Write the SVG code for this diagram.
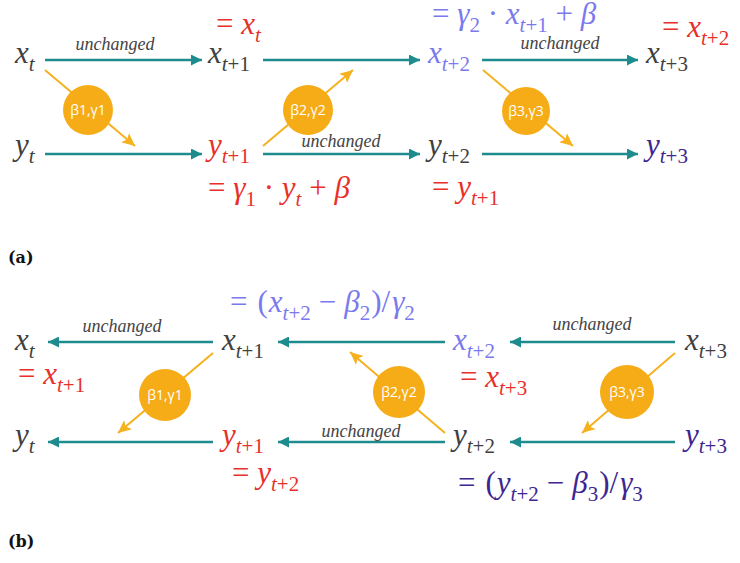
<svg xmlns="http://www.w3.org/2000/svg" width="740" height="563" viewBox="0 0 740 563">
<defs>
<style>
.m{font-family:"Liberation Serif",serif;font-size:31px;font-style:italic}
.u{font-style:normal}
.s{font-size:21px}
.g{fill:#404040}
.r{fill:#e8302a}
.b{fill:#7b79ee}
.p{fill:#3d2690}
.lab{font-family:"Liberation Serif",serif;font-style:italic;font-size:18px;fill:#444444;text-anchor:middle}
.cl{font-family:"Open Sans",sans-serif;font-size:14px;fill:#ffffff;text-anchor:middle}
.ta{stroke:#1e8c8e;stroke-width:2.5;fill:none;marker-end:url(#ah)}
.oa{stroke:#f5b11e;stroke-width:2;fill:none;marker-end:url(#oh)}
.c{fill:#f6ac17}
.cap{font-family:"DejaVu Serif",serif;font-weight:bold;font-size:16px;fill:#111111}
</style>
<marker id="ah" markerUnits="userSpaceOnUse" markerWidth="11" markerHeight="11" refX="11" refY="5.5" orient="auto"><path d="M0,0 L11,5.5 L0,11 Z" fill="#1e8c8e"/></marker>
<marker id="oh" markerUnits="userSpaceOnUse" markerWidth="13" markerHeight="12" refX="13" refY="6" orient="auto"><path d="M0,0 L13,6 L0,12 L3,6 Z" fill="#f5b11e"/></marker>
</defs>
<rect width="740" height="563" fill="#ffffff"/>

<g id="connectors">
<path class="ta" d="M45,60 H202"/>
<path class="ta" d="M263,60 H420"/>
<path class="ta" d="M482,60 H638"/>
<path class="ta" d="M45,154 H202"/>
<path class="ta" d="M263,154 H420"/>
<path class="ta" d="M482,154 H638"/>
<path class="oa" d="M45,70 L135,146"/>
<path class="oa" d="M263,146 L353,70"/>
<path class="oa" d="M483,70 L573,146"/>
<text class="lab" x="115" y="50">unchanged</text>
<text class="lab" x="560" y="49">unchanged</text>
<text class="lab" x="341" y="147">unchanged</text>

<path class="ta" d="M213,342 H48"/>
<path class="ta" d="M445,342 H278"/>
<path class="ta" d="M675,342 H510"/>
<path class="ta" d="M213,442 H48"/>
<path class="ta" d="M445,442 H278"/>
<path class="ta" d="M675,442 H510"/>
<path class="oa" d="M213,353 L118,433"/>
<path class="oa" d="M445,433 L350,352"/>
<path class="oa" d="M675,353 L582,433"/>
<text class="lab" x="122" y="332">unchanged</text>
<text class="lab" x="592" y="330">unchanged</text>
<text class="lab" x="361" y="437">unchanged</text>
</g>

<g id="a-x-t"><text class="m g" x="15" y="63">x<tspan class="s" dy="8">t</tspan></text></g>
<g id="a-x-t1"><text class="m g" x="208" y="63">x<tspan class="s" dy="8">t<tspan class="u">+1</tspan></tspan></text>
<text class="m r" x="216" y="34"><tspan class="u">= </tspan>x<tspan class="s" dy="8">t</tspan></text></g>
<g id="a-x-t2"><text class="m b" x="428" y="63">x<tspan class="s" dy="8">t<tspan class="u">+2</tspan></tspan></text>
<text class="m b" x="432" y="24"><tspan class="u">= </tspan>γ<tspan class="s u" dy="8">2</tspan><tspan class="u" dy="-8"> · </tspan>x<tspan class="s" dy="8">t<tspan class="u">+1</tspan></tspan><tspan class="u" dy="-8"> + </tspan>β</text></g>
<g id="a-x-t3"><text class="m g" x="646" y="63">x<tspan class="s" dy="8">t<tspan class="u">+3</tspan></tspan></text>
<text class="m r" x="662" y="37"><tspan class="u">= </tspan>x<tspan class="s" dy="8">t<tspan class="u">+2</tspan></tspan></text></g>
<g id="a-y-t"><text class="m g" x="15" y="155">y<tspan class="s" dy="8">t</tspan></text></g>
<g id="a-y-t1"><text class="m r" x="208" y="155">y<tspan class="s" dy="8">t<tspan class="u">+1</tspan></tspan></text>
<text class="m r" x="208" y="198"><tspan class="u">= </tspan>γ<tspan class="s u" dy="8">1</tspan><tspan class="u" dy="-8"> · </tspan>y<tspan class="s" dy="8">t</tspan><tspan class="u" dy="-8"> + </tspan>β</text></g>
<g id="a-y-t2"><text class="m g" x="428" y="155">y<tspan class="s" dy="8">t<tspan class="u">+2</tspan></tspan></text>
<text class="m r" x="432" y="197"><tspan class="u">= </tspan>y<tspan class="s" dy="8">t<tspan class="u">+1</tspan></tspan></text></g>
<g id="a-y-t3"><text class="m p" x="646" y="155">y<tspan class="s" dy="8">t<tspan class="u">+3</tspan></tspan></text></g>
<g id="a-f1"><circle class="c" cx="88" cy="110" r="25"/><text class="cl" x="88" y="115">β1,γ1</text></g>
<g id="a-f2"><circle class="c" cx="308" cy="110" r="25"/><text class="cl" x="308" y="115">β2,γ2</text></g>
<g id="a-f3"><circle class="c" cx="526" cy="111" r="24"/><text class="cl" x="526" y="116">β3,γ3</text></g>
<text class="cap" x="8" y="263">(a)</text>

<g id="b-x-t"><text class="m g" x="15" y="350">x<tspan class="s" dy="8">t</tspan></text>
<text class="m r" x="18" y="384"><tspan class="u">= </tspan>x<tspan class="s" dy="8">t<tspan class="u">+1</tspan></tspan></text></g>
<g id="b-x-t1"><text class="m g" x="222" y="350">x<tspan class="s" dy="8">t<tspan class="u">+1</tspan></tspan></text>
<text class="m b" x="230" y="312"><tspan class="u">=</tspan><tspan class="u" dx="10">(</tspan><tspan dx="1">x</tspan><tspan class="s" dy="8">t<tspan class="u">+2</tspan></tspan><tspan class="u" dy="-8" dx="8">−</tspan><tspan dx="8">β</tspan><tspan class="s u" dy="8">2</tspan><tspan class="u" dy="-8" dx="1">)/</tspan><tspan dx="2">γ</tspan><tspan class="s u" dy="8">2</tspan></text></g>
<g id="b-x-t2"><text class="m b" x="453" y="350">x<tspan class="s" dy="8">t<tspan class="u">+2</tspan></tspan></text>
<text class="m r" x="460" y="387"><tspan class="u">= </tspan>x<tspan class="s" dy="8">t<tspan class="u">+3</tspan></tspan></text></g>
<g id="b-x-t3"><text class="m g" x="685" y="350">x<tspan class="s" dy="8">t<tspan class="u">+3</tspan></tspan></text></g>
<g id="b-y-t"><text class="m g" x="15" y="445">y<tspan class="s" dy="8">t</tspan></text></g>
<g id="b-y-t1"><text class="m r" x="222" y="445">y<tspan class="s" dy="8">t<tspan class="u">+1</tspan></tspan></text>
<text class="m r" x="232" y="483"><tspan class="u">= </tspan>y<tspan class="s" dy="8">t<tspan class="u">+2</tspan></tspan></text></g>
<g id="b-y-t2"><text class="m g" x="453" y="445">y<tspan class="s" dy="8">t<tspan class="u">+2</tspan></tspan></text>
<text class="m p" x="458" y="493"><tspan class="u">=</tspan><tspan class="u" dx="10">(</tspan><tspan dx="1">y</tspan><tspan class="s" dy="8">t<tspan class="u">+2</tspan></tspan><tspan class="u" dy="-8" dx="8">−</tspan><tspan dx="8">β</tspan><tspan class="s u" dy="8">3</tspan><tspan class="u" dy="-8" dx="1">)/</tspan><tspan dx="2">γ</tspan><tspan class="s u" dy="8">3</tspan></text></g>
<g id="b-y-t3"><text class="m p" x="685" y="445">y<tspan class="s" dy="8">t<tspan class="u">+3</tspan></tspan></text></g>
<g id="b-f1"><circle class="c" cx="165" cy="395" r="26"/><text class="cl" x="165" y="400">β1,γ1</text></g>
<g id="b-f2"><circle class="c" cx="399" cy="392" r="26"/><text class="cl" x="399" y="397">β2,γ2</text></g>
<g id="b-f3"><circle class="c" cx="627" cy="392" r="27"/><text class="cl" x="627" y="397">β3,γ3</text></g>
<text class="cap" x="8" y="547">(b)</text>
</svg>
